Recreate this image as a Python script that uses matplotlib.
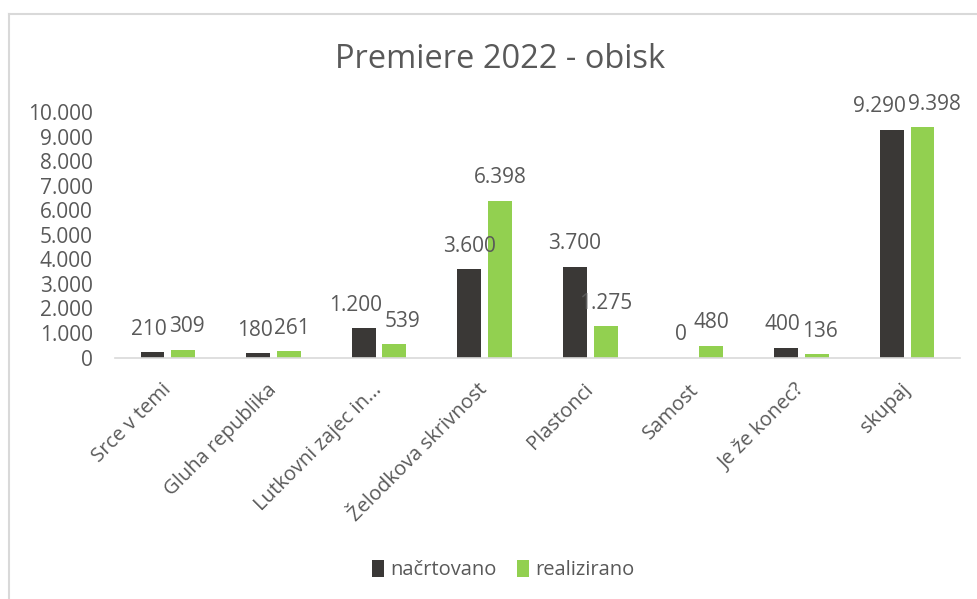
import matplotlib

matplotlib.use("Agg")
import matplotlib.pyplot as plt
from matplotlib.lines import Line2D
from matplotlib.ticker import FuncFormatter

categories = ["Srce v temi", "Gluha republika", "Lutkovni zajec in...", "Želodkova skrivnost",
              "Plastonci", "Samost", "Je že konec?", "skupaj"]
nacrtovano = [210, 180, 1200, 3600, 3700, 0, 400, 9290]
realizirano = [309, 261, 539, 6398, 1275, 480, 136, 9398]
yticks = list(range(0, 10001, 1000))

TEXT = "#595959"
DARK = "#3a3836"
GREEN = "#92d050"

plt.rcParams["font.family"] = ["Open Sans", "DejaVu Sans"]

W, H = 978, 599
fig = plt.figure(figsize=(W / 100, H / 100), dpi=100)
ax = fig.add_axes([115 / W, 1 - 357.5 / H, (960 - 115) / W, (357.5 - 112.5) / H])

x = list(range(len(categories)))
bw = 0.227
off = 0.145
ax.bar([i - off for i in x], nacrtovano, width=bw, color=DARK, label="načrtovano")
ax.bar([i + off for i in x], realizirano, width=bw, color=GREEN, label="realizirano")


def fmt(v):
    return f"{int(v):,}".replace(",", ".")


pairs = []
for i in x:
    a = ax.annotate(fmt(nacrtovano[i]), (i - off, nacrtovano[i]), xytext=(0, 9),
                    textcoords="offset points", ha="center", va="bottom", fontsize=15, color=TEXT)
    b = ax.annotate(fmt(realizirano[i]), (i + off, realizirano[i]), xytext=(0, 9),
                    textcoords="offset points", ha="center", va="bottom", fontsize=15, color=TEXT)
    pairs.append((a, b))

ax.set_xlim(-0.5, len(categories) - 0.5)
ax.set_ylim(0, 10000)
ax.set_yticks(yticks)
ax.yaxis.set_major_formatter(FuncFormatter(lambda v, p: fmt(v)))
ax.set_xticks(x)
ax.set_xticklabels(categories, rotation=45, ha="right", va="center", rotation_mode="anchor",
                   fontsize=14.5)
ax.tick_params(axis="both", length=0, colors=TEXT)
ax.tick_params(axis="y", labelsize=15, pad=16)
ax.tick_params(axis="x", pad=21)
for s in ["top", "right", "left"]:
    ax.spines[s].set_visible(False)
ax.spines["bottom"].set_color("#d9d9d9")
ax.spines["bottom"].set_linewidth(1.2)

fig.text(500 / W, 1 - 60 / H, "Premiere 2022 - obisk", ha="center", va="center", fontsize=23.5,
         color=TEXT)

fig.legend(loc="center", bbox_to_anchor=(503 / W, 1 - 570 / H), ncol=2, frameon=False,
           fontsize=14.5, labelcolor=TEXT, handlelength=0.6, handleheight=0.9, handletextpad=0.3,
           columnspacing=1.0)

# chart frame (left and top edges)
fig.add_artist(Line2D([8.5 / W, 8.5 / W], [0, 1 - 13.5 / H], transform=fig.transFigure,
                      color="#d9d9d9", linewidth=1.5))
fig.add_artist(Line2D([8.5 / W, 1], [1 - 13.5 / H, 1 - 13.5 / H], transform=fig.transFigure,
                      color="#d9d9d9", linewidth=1.5))

# push apart data labels of the same category that collide
fig.canvas.draw()
r = fig.canvas.get_renderer()
for a, b in pairs:
    ea, eb = a.get_window_extent(r), b.get_window_extent(r)
    if ea.overlaps(eb):
        ov = (ea.x1 - eb.x0 + 2) * 72 / fig.dpi
        a.xyann = (-ov / 2, 9)
        b.xyann = (ov / 2, 9)

fig.savefig("out.png", dpi=100)
plt.close(fig)
